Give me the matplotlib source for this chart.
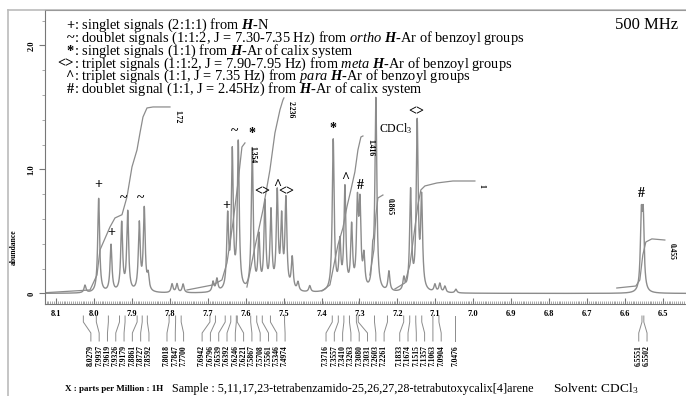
import numpy as np
import matplotlib.pyplot as plt
from matplotlib.lines import Line2D
from matplotlib.transforms import blended_transform_factory
from matplotlib.ticker import MultipleLocator

plt.rcParams['font.family'] = ['Liberation Serif', 'DejaVu Serif']
plt.rcParams['mathtext.fontset'] = 'custom'
plt.rcParams['mathtext.rm'] = 'Liberation Serif'
plt.rcParams['mathtext.it'] = 'Liberation Serif:italic'
plt.rcParams['mathtext.bf'] = 'Liberation Serif:bold'
try:
    plt.rcParams['mathtext.bfit'] = 'Liberation Serif:italic:bold'
    BFIT = r'\mathbfit'
except KeyError:
    BFIT = r'\mathbf'

# peaks (ppm, height)
peak_ppm = [8.0236, 7.9875, 7.955, 7.9268, 7.911, 7.8804, 7.8673, 7.857,
            7.794, 7.781, 7.765, 7.686, 7.6757, 7.6474, 7.6353, 7.6195,
            7.5826, 7.565, 7.5492, 7.5333, 7.5167, 7.5051, 7.4938, 7.4772,
            7.462, 7.431, 7.3691, 7.3515, 7.3383, 7.3206, 7.3053, 7.2986,
            7.2881, 7.2652, 7.2566, 7.2223, 7.1828, 7.1651, 7.1477, 7.1361,
            7.101, 7.088, 7.0747, 7.0457, 6.5568, 6.5518]
peak_height = [0.06, 0.76, 0.38, 0.55, 0.64, 0.54, 0.66, 0.12,
               0.07, 0.07, 0.07, 0.08, 0.10, 0.58, 1.10, 1.18,
               1.14, 0.42, 0.70, 0.62, 0.77, 0.55, 0.72, 0.26,
               0.07, 0.05, 1.22, 0.37, 0.82, 0.50, 0.66, 0.64,
               0.25, 0.23, 1.54, 0.16, 0.10, 0.80, 1.34, 0.72,
               0.06, 0.07, 0.05, 0.03, 0.56, 0.56]
line_width = 0.003

# integral traces (ppm, level) and their values
integrals = {
    '1.72': ([8.129, 8.0104, 7.9919, 7.984, 7.9577, 7.9445, 7.926, 7.9129, 7.8997,
              7.8865, 7.8786, 7.8707, 7.8601, 7.8443, 7.7995],
             [0.006, 0.028, 0.149, 0.351, 0.536, 0.609, 0.635, 0.778, 1.02,
              1.157, 1.294, 1.423, 1.496, 1.504, 1.504]),
    '1.354': ([7.7547, 7.6862, 7.6625, 7.6493, 7.6335, 7.6203, 7.6098, 7.6018],
              [0.028, 0.069, 0.109, 0.246, 0.569, 0.891, 1.181, 1.214]),
    '2.236': ([7.5966, 7.5887, 7.5755, 7.5544, 7.536, 7.5228, 7.5096, 7.5017, 7.4991],
              [0.052, 0.173, 0.375, 0.673, 0.996, 1.294, 1.48, 1.56, 1.577]),
    '1.416': ([7.3989, 7.3778, 7.3673, 7.3567, 7.3436, 7.333, 7.3225, 7.312, 7.304,
               7.2961, 7.2908],
              [0.02, 0.069, 0.23, 0.391, 0.528, 0.698, 0.835, 0.98, 1.157,
               1.262, 1.27]),
    '0.865': ([7.2724, 7.2619, 7.2566, 7.2513, 7.2381],
              [0.149, 0.351, 0.633, 0.77, 0.794]),
    '1': ([7.2065, 7.1801, 7.167, 7.1564, 7.1459, 7.138, 7.1274, 7.0958, 7.0536, 6.9956],
          [0.036, 0.085, 0.23, 0.472, 0.714, 0.835, 0.867, 0.891, 0.907, 0.907]),
    '0.455': ([6.6214, 6.5713, 6.5607, 6.5529, 6.5449, 6.5291, 6.4948],
              [0.044, 0.06, 0.109, 0.31, 0.415, 0.44, 0.431]),
}

# assignment marks on the peaks (symbol, ppm, level)
marks = [('+', 7.9875, 0.875), ('+', 7.955, 0.49), ('~', 7.9208, 0.762),
         ('~', 7.8768, 0.762), ('+', 7.6519, 0.706), ('~', 7.6282, 1.302),
         ('*', 7.5834, 1.286), ('<>', 7.557, 0.819), ('^', 7.5175, 0.867),
         ('<>', 7.4938, 0.819), ('*', 7.3699, 1.327), ('^', 7.3383, 0.931),
         ('#', 7.2987, 0.867), ('<>', 7.1511, 1.464), ('#', 6.5563, 0.81)]

# picked peak list, grouped as printed under the axis
peak_groups = [
    ['8.0279', '7.9937', '7.9619', '7.9326', '7.9179', '7.8861', '7.8727', '7.8592'],
    ['7.8018', '7.7847', '7.7700'],
    ['7.6942', '7.6796', '7.6539', '7.6392', '7.6246', '7.6221', '7.5867', '7.5708',
     '7.5561', '7.5346', '7.4974'],
    ['7.3716', '7.3557', '7.3410', '7.3263', '7.3080', '7.3031', '7.2603', '7.2261'],
    ['7.1833', '7.1674', '7.1515', '7.1357', '7.1063', '7.0904'],
    ['7.0476'],
    ['6.5551', '6.5502'],
]

legend_rows = [
    ('+', r'singlet signals (2:1:1) from $%s{H}$-N' % BFIT),
    ('~', r'doublet signals (1:1:2, J = 7.30-7.35 Hz) from $\mathit{ortho}$ $%s{H}$-Ar of benzoyl groups' % BFIT),
    ('*', r'singlet signals (1:1) from $%s{H}$-Ar of calix system' % BFIT),
    ('<>', r'triplet signals (1:1:2, J = 7.90-7.95 Hz) from $\mathit{meta}$ $%s{H}$-Ar of benzoyl groups' % BFIT),
    ('^', r'triplet signals (1:1, J = 7.35 Hz) from $\mathit{para}$ $%s{H}$-Ar of benzoyl groups' % BFIT),
    ('#', r'doublet signal (1:1, J = 2.45Hz) from $%s{H}$-Ar of calix system' % BFIT),
]

W, H = 686, 396
GRAY = '#8c8c8c'


def fx(x):
    return x / W


def fy(y):
    return 1 - y / H


fig = plt.figure(figsize=(W / 100, H / 100), dpi=100)
ax = fig.add_axes([fx(45), fy(304), fx(686 - 45), (304 - 10) / H])
ax.set_xlim(8.129, 6.439)
ax.set_ylim(-0.085, 2.286)

# spectrum as a sum of lorentzian lines
ppm = np.linspace(8.129, 6.439, 8000)
spec = np.zeros_like(ppm)
for p, h in zip(peak_ppm, peak_height):
    spec += h / (1 + ((ppm - p) / line_width) ** 2)
ax.plot(ppm, spec, color=GRAY, lw=1.0)

for lab, (xs, ys) in integrals.items():
    ax.plot(xs, ys, color=GRAY, lw=0.9)
    ax.annotate(lab, xy=(xs[-1], ys[-1]), xytext=(5, -2), textcoords='offset points',
                rotation=270, ha='center', va='top', fontsize=5.5, weight='bold')

for sym, p, v in marks:
    ax.text(p, v, sym, ha='center', va='center', fontsize=10, weight='bold')

ax.text(7.2485, 1.33, 'CDCl$_3$', fontsize=8.5, ha='left', va='center')

for s in ['top', 'right']:
    ax.spines[s].set_visible(False)
for s in ['left', 'bottom']:
    ax.spines[s].set_color('#777777')
    ax.spines[s].set_linewidth(0.8)

ax.xaxis.set_major_locator(MultipleLocator(0.1))
ax.xaxis.set_minor_locator(MultipleLocator(0.005))
ax.xaxis.set_major_formatter('{x:.1f}')
ax.tick_params(axis='x', which='major', direction='in', length=4, pad=4,
               labelsize=6, color='#777777')
ax.tick_params(axis='x', which='minor', direction='in', length=2, color='#999999')
for t in ax.get_xticklabels():
    t.set_fontweight('bold')

ax.set_yticks([0, 1, 2], ['0', '1.0', '2.0'], rotation=90, va='center',
              fontsize=6, fontweight='bold')
ax.yaxis.set_minor_locator(MultipleLocator(0.2))
ax.tick_params(axis='y', which='major', direction='out', length=4, pad=3, color='#777777')
ax.tick_params(axis='y', which='minor', direction='out', length=2, color='#999999')

fig.text(fx(14), fy(247), 'abundance', rotation=90, fontsize=5.5, weight='bold',
         ha='center', va='center')

# picked peak labels with their connectors
trans = blended_transform_factory(ax.transData, fig.transFigure)
step = 8.3 / 379.4
for grp in peak_groups:
    vals = [float(v) for v in grp]
    c = np.mean(vals)
    n = len(vals)
    for i, (v, lab) in enumerate(zip(vals, grp)):
        lx = c - (i - (n - 1) / 2) * step
        ax.plot([v, v, lx, lx], [fy(316), fy(322), fy(333), fy(341)], transform=trans,
                clip_on=False, color=GRAY, lw=0.7)
        ax.text(lx, fy(345), lab, rotation=90, ha='center', va='top', transform=trans,
                fontsize=5.5, weight='bold')

# legend block
for i, (sym, txt) in enumerate(legend_rows):
    y = fy(29 + i * 12.8)
    fig.text(fx(74), y, sym, ha='right', va='baseline', fontsize=10.4, weight='bold')
    fig.text(fx(74), y, ': ' + txt, ha='left', va='baseline', fontsize=10.4)

fig.text(fx(678), fy(25), '500 MHz', ha='right', va='center', fontsize=12)

fig.text(fx(65), fy(389), 'X : parts per Million : 1H', ha='left', va='center',
         fontsize=6.5, weight='bold')
fig.text(fx(172), fy(389), 'Sample : 5,11,17,23-tetrabenzamido-25,26,27,28-tetrabutoxycalix[4]arene',
         ha='left', va='center', fontsize=8.7)
fig.text(fx(553), fy(389), 'Solvent: CDCl$_3$', ha='left', va='center', fontsize=9.6)

# outer frame
fig.add_artist(Line2D([fx(8), 1], [fy(10), fy(10)], color='#bbbbbb', lw=1.2))
fig.add_artist(Line2D([fx(8), fx(8)], [0, fy(10)], color='#bbbbbb', lw=1.2))
fig.add_artist(Line2D([fx(45), 1], [fy(10), fy(10)], color='#999999', lw=0.8))

fig.savefig('out.png', dpi=100)
